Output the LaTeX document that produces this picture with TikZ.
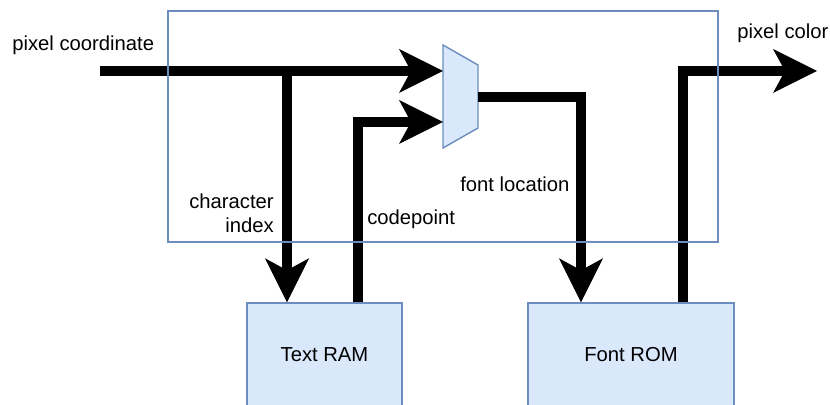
\documentclass[tikz,border=0pt]{standalone}
\usepackage{fontspec}
\setmainfont{Liberation Sans}
\usetikzlibrary{arrows.meta,positioning}

\definecolor{boxfill}{HTML}{DAE8FC}
\definecolor{boxline}{HTML}{6C8EBF}

\tikzset{
    bus/.style={line width=0.25cm, -{Stealth[length=1.1cm, width=1.1cm, inset=0.3cm, line width=0pt]}},
    wire/.style={line width=0.25cm},
    block/.style={draw=boxline, fill=boxfill, line width=1pt, font=\fontsize{14.4}{17}\selectfont},
    lbl/.style={inner sep=0pt, font=\fontsize{14.4}{17}\selectfont},
}

\begin{document}
\begin{tikzpicture}[x=0.025cm, y=-0.025cm]
    \clip (0,0) rectangle (830,405);

    % memories
    \node[block, minimum width=3.875cm, minimum height=2.6cm] (ram) at (324.5,355) {Text RAM};
    \node[block, minimum width=5.15cm, minimum height=2.6cm] (rom) at (631,355) {Font ROM};

    % multiplexer
    \draw[draw=boxline, fill=boxfill, line width=1pt] (443,45) -- (478,65) -- (478,128) -- (443,148) -- cycle;
    \coordinate (mux in1) at (443,71);
    \coordinate (mux in2) at (443,122);
    \coordinate (mux out) at (478,97);

    % helper points
    \coordinate (pc) at (100,71);
    \coordinate (br) at (287,71);
    \coordinate (cp) at (358,0);
    \coordinate (fl) at (581,0);
    \coordinate (px) at (683,0);
    \coordinate (pxend) at (817,71);

    % buses
    \draw[bus] (pc) -- (mux in1);
    \draw[bus] (br) -- (br |- ram.north);
    \draw[bus] (ram.north -| cp) |- (mux in2);
    \draw[bus] (mux out) -| (rom.north -| fl);
    \draw[bus] (rom.north -| px) |- (pxend);

    % labels
    \node[lbl, anchor=base west] (pclbl) at (12,51) {pixel coordinate};
    \node[lbl, anchor=base west] (pxlbl) at (737,39) {pixel color};
    \node[lbl, anchor=east, align=right] (cilbl) at (274,213) {character\\index};
    \node[lbl, anchor=base west] (cplbl) at (367,225) {codepoint};
    \node[lbl, anchor=base west] (fllbl) at (460,192) {font location};

    % frame on top
    \draw[boxline, line width=1pt] (168,11) rectangle (718,242);
\end{tikzpicture}
\end{document}
